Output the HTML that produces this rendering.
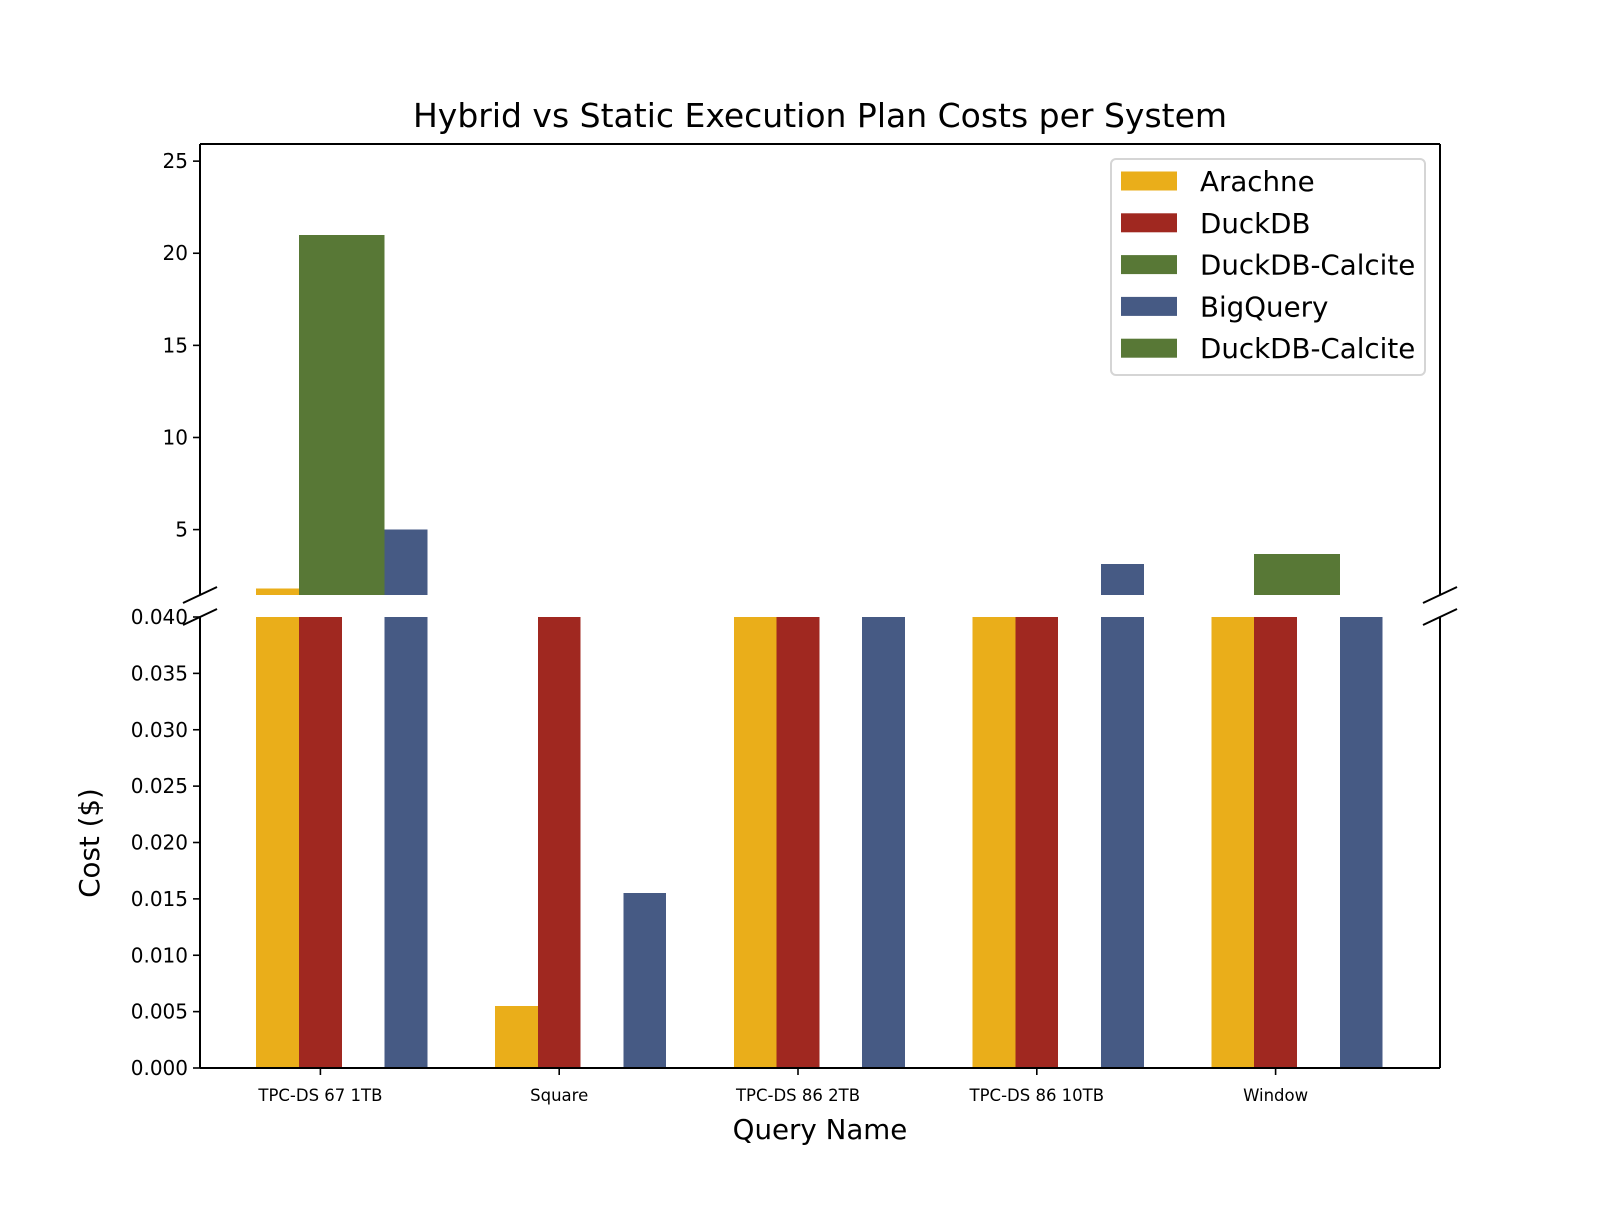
<!DOCTYPE html>
<html><head><meta charset="utf-8"><style>
html,body{margin:0;padding:0;background:#fff;}
svg text{font-family:"DejaVu Sans","Liberation Sans",sans-serif;fill:#000;}
</style></head><body>
<svg id="chart" width="1600" height="1200" xmlns="http://www.w3.org/2000/svg">
<rect width="1600" height="1200" fill="#fff"/>
<text x="820" y="127" font-size="33" text-anchor="middle">Hybrid vs Static Execution Plan Costs per System</text>
<g id="bars" shape-rendering="crispEdges"></g>
<g id="axes"></g>
</svg>
<script>
const categories = ["TPC-DS 67 1TB", "Square", "TPC-DS 86 2TB", "TPC-DS 86 10TB", "Window"];
const seriesNames = ["Arachne", "DuckDB", "DuckDB-Calcite", "BigQuery", "DuckDB-Calcite"];
const arachne = [1.79, 0.0055, 0.5, 0.5, 0.5];
const duckdb = [0.8, 0.8, 0.8, 0.8, 0.8];
const calcite = [21.0, 0, 0.9, 0.9, 3.67];
const bigquery = [5.0, 0.0155, 0.9, 3.12, 0.9];
const calcite2 = [21.0, 0, 0.9, 0.9, 3.67];
const topTicks = [5, 10, 15, 20, 25];
const bottomTicks = ["0.000","0.005","0.010","0.015","0.020","0.025","0.030","0.035","0.040"];

const NS = "http://www.w3.org/2000/svg";
const gb = document.getElementById("bars");
const ga = document.getElementById("axes");
const L = 200, R = 1440;
const T1 = 144, B1 = 595, T2 = 617, B2 = 1068;
const topMin = 1.45, topMax = 25.93, botMax = 0.04;
const colors = ["#EAAE1A", "#A02820", "#587836", "#465A84", "#587836"];
const offsets = [-1, 0, 1, 2, 0];
const barW = 42.8;
function xCenter(i){ return 320.4 + i * 238.8; }
function yTop(v){ return B1 - (v - topMin) / (topMax - topMin) * (B1 - T1); }
function yBot(v){ return B2 - v / botMax * (B2 - T2); }
function mk(tag, attrs, parent){
  const e = document.createElementNS(NS, tag);
  for (const k in attrs) e.setAttribute(k, attrs[k]);
  parent.appendChild(e);
  return e;
}
const series = [arachne, duckdb, calcite, bigquery, calcite2];
const slugs = ["arachne", "duckdb", "duckdb-calcite", "bigquery", "duckdb-calcite-2"];
series.forEach((vals, s) => {
  vals.forEach((v, i) => {
    if (v <= topMin) return;
    const x = xCenter(i) + offsets[s] * barW - barW / 2;
    const y = Math.max(T1, yTop(v));
    const r = mk("rect", {x: x, y: y, width: barW, height: B1 - y, fill: colors[s]}, gb);
    
    
  });
});
[0, 1, 3].forEach(s => {
  series[s].forEach((v, i) => {
    if (v <= 0) return;
    const x = xCenter(i) + offsets[s] * barW - barW / 2;
    const y = Math.max(T2, yBot(v));
    const r = mk("rect", {x: x, y: y, width: barW, height: B2 - y, fill: colors[s]}, gb);
    
    
  });
});
const sp = [[L,T1,R,T1],[L,T1,L,B1],[R,T1,R,B1],[L,T2,L,B2],[R,T2,R,B2],[L,B2,R,B2]];
sp.forEach(c => {
  const l = mk("line", {x1:c[0], y1:c[1], x2:c[2], y2:c[3], stroke:"#000", "stroke-width":2}, ga);
  
  
});
[[L,B1],[R,B1],[L,T2],[R,T2]].forEach(p => {
  const l = mk("line", {x1:p[0]-17, y1:p[1]+8, x2:p[0]+17, y2:p[1]-8, stroke:"#000", "stroke-width":2}, ga);
  
  
});
topTicks.forEach(v => {
  const y = yTop(v);
  const t = mk("line", {x1:L-7, y1:y, x2:L, y2:y, stroke:"#000", "stroke-width":1.6}, ga);
  
  
  const tx = mk("text", {x:L-12, y:y+7, "font-size":20, "text-anchor":"end"}, ga);
  tx.textContent = v;
  
  
});
bottomTicks.forEach(lbl => {
  const y = yBot(parseFloat(lbl));
  const t = mk("line", {x1:L-7, y1:y, x2:L, y2:y, stroke:"#000", "stroke-width":1.6}, ga);
  
  
  const tx = mk("text", {x:L-12, y:y+7, "font-size":20, "text-anchor":"end"}, ga);
  tx.textContent = lbl;
  
  
});
categories.forEach((c, i) => {
  const x = xCenter(i);
  const t = mk("line", {x1:x, y1:B2, x2:x, y2:B2+7, stroke:"#000", "stroke-width":1.6}, ga);
  
  
  const tx = mk("text", {x:x, y:B2+33, "font-size":16.5, "text-anchor":"middle"}, ga);
  tx.textContent = c;
  
  
});
const xl = mk("text", {x:820, y:1139, "font-size":27.7, "text-anchor":"middle"}, ga);
xl.textContent = "Query Name";


const yl = mk("text", {x:0, y:0, "font-size":27.7, "text-anchor":"middle", transform:"translate(99,843) rotate(-90)"}, ga);
yl.textContent = "Cost ($)";


const lg = mk("g", {}, ga);


mk("rect", {x:1111, y:159, width:314, height:216, rx:5, fill:"#fff", stroke:"#d5d5d5", "stroke-width":2}, lg);
seriesNames.forEach((n, s) => {
  const cy = 181 + s * 41.8;
  const r = mk("rect", {x:1121, y:cy-9.5, width:56, height:19, fill:colors[s]}, lg);
  
  
  const t = mk("text", {x:1200, y:cy+10, "font-size":27.7}, lg);
  t.textContent = n;
  
  
});
</script>
</body></html>
